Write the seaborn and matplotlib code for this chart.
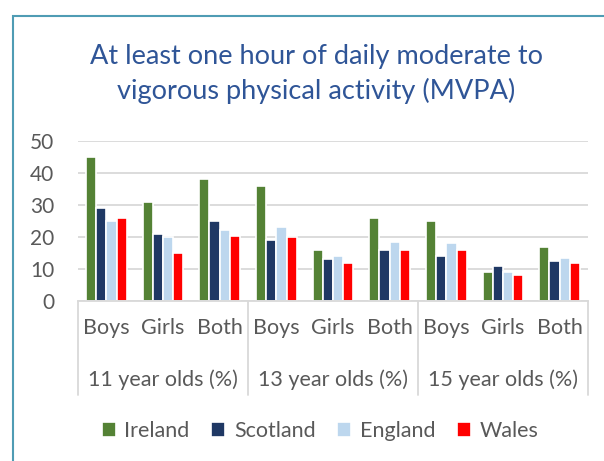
import matplotlib
matplotlib.use("Agg")
import matplotlib.pyplot as plt
import matplotlib.transforms as mtransforms
from matplotlib.patches import Rectangle
import seaborn as sns
import pandas as pd

# ---- data ----
age_groups = ["11 year olds (%)", "13 year olds (%)", "15 year olds (%)"]
sexes = ["Boys", "Girls", "Both"]
countries = ["Ireland", "Scotland", "England", "Wales"]
ireland = [45, 31, 38, 36, 16, 26, 25, 9, 17]
scotland = [29, 21, 25, 19, 13, 16, 14, 11, 12.4]
england = [25, 20, 22.3, 23, 14, 18.4, 18, 9, 13.4]
wales = [26, 15, 20.4, 20, 12, 16, 16, 8, 12]
colors = ["#548235", "#1F3864", "#BDD7EE", "#FF0000"]

cats = [f"{a}|{s}" for a in age_groups for s in sexes]
rows = []
for c, vals in zip(countries, [ireland, scotland, england, wales]):
    for cat, v in zip(cats, vals):
        rows.append({"cat": cat, "country": c, "value": v})
df = pd.DataFrame(rows)

sns.set_theme(style="white")
plt.rcParams["font.family"] = ["Lato", "DejaVu Sans"]

fig = plt.figure(figsize=(6.04, 4.61), dpi=100)
ax = fig.add_axes([78 / 604, 1 - 301 / 461, 510 / 604, 160 / 461])

sns.barplot(data=df, x="cat", y="value", hue="country", order=cats,
            hue_order=countries, palette=colors, width=0.72, ax=ax,
            edgecolor="white", linewidth=1.2, saturation=1, legend=True)

ax.set_ylim(0, 50)
ax.set_xlim(-0.5, len(cats) - 0.5)
ax.set_yticks([0, 10, 20, 30, 40, 50])
ax.yaxis.grid(True, color="#D9D9D9", linewidth=1.3)
ax.set_axisbelow(True)
for s in ["top", "right", "left"]:
    ax.spines[s].set_visible(False)
ax.spines["bottom"].set_color("#D9D9D9")
ax.spines["bottom"].set_linewidth(1.3)
ax.set_xlabel("")
ax.set_ylabel("")
ax.tick_params(axis="y", labelsize=15, labelcolor="#595959", length=0, pad=17)
ax.set_xticks(range(len(cats)))
ax.set_xticklabels([c.split("|")[1] for c in cats])
ax.tick_params(axis="x", labelsize=15.5, labelcolor="#595959", length=0, pad=12)

# group labels and separators
trans = mtransforms.blended_transform_factory(ax.transData, ax.transAxes)
ax_h = 160
for i, g in enumerate(age_groups):
    ax.text(3 * i + 1, -(380 - 301) / ax_h, g, transform=trans, ha="center",
            va="center", fontsize=15.5, color="#595959")
for b in [-0.5, 2.5, 5.5, 8.5]:
    ax.plot([b, b], [0, -(395 - 301) / ax_h], transform=trans,
            color="#D9D9D9", linewidth=1.3, clip_on=False)

# legend
h, l = ax.get_legend_handles_labels()
ax.get_legend().remove()
fig.legend(h, l, loc="center", bbox_to_anchor=(320 / 604, 1 - 431 / 461),
           ncol=4, frameon=False, fontsize=15.5, handlelength=0.65,
           handleheight=0.65, handletextpad=0.4, columnspacing=1.0,
           labelcolor="#595959")

# title
fig.text(316 / 604, 1 - 74 / 461,
         "At least one hour of daily moderate to\nvigorous physical activity (MVPA)",
         ha="center", va="center", fontsize=19.5, color="#2F5597",
         linespacing=1.45)

# border
fig.patches.append(Rectangle((13 / 604, -0.05), 1.0, 1 - 16 / 461 + 0.05,
                             transform=fig.transFigure, fill=False,
                             edgecolor="#4F9CB4", linewidth=1.5))

fig.savefig("out.png", dpi=100)
